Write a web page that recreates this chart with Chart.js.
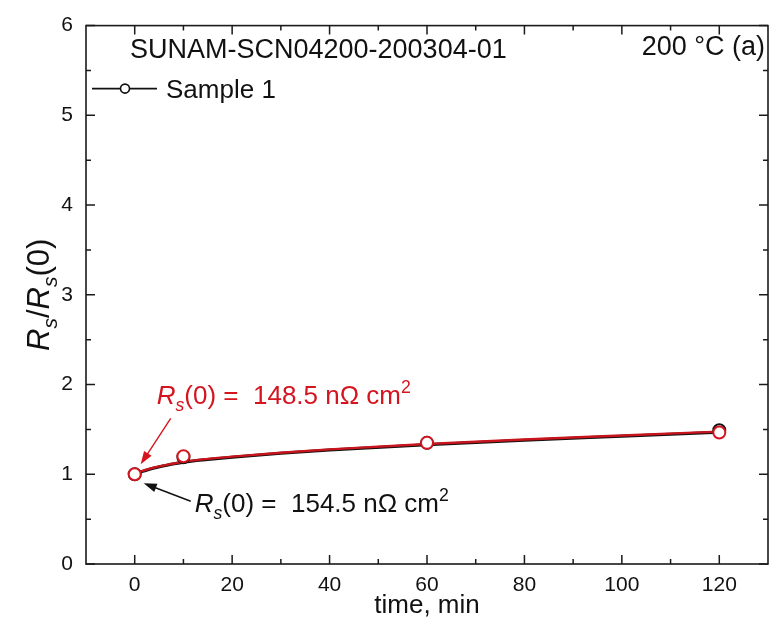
<!DOCTYPE html>
<html>
<head>
<meta charset="utf-8">
<script src="https://cdn.jsdelivr.net/npm/chart.js@4/dist/chart.umd.min.js"></script>
<style>
  html, body { margin: 0; padding: 0; background: #fff; }
  #wrap { width: 776px; height: 627px; }
</style>
</head>
<body>
<div id="wrap"><canvas id="c" width="776" height="627"></canvas></div>
<script>
// Annealing time (min) and normalised surface resistance Rs/Rs(0)
const timeMin = [0, 10, 60, 120];
const sample1Ratio = [1.00, 1.19, 1.35, 1.49];
const sample2Ratio = [1.00, 1.20, 1.35, 1.465];

// Smooth fit curves through each set
const fitTime = [0, 1, 2, 4, 7, 10, 15, 20, 30, 40, 60, 80, 100, 120];
const sample1Fit = [0.995, 1.02, 1.038, 1.07, 1.105, 1.135, 1.165, 1.19, 1.235, 1.27, 1.33, 1.38, 1.424, 1.468];
const sample2Fit = [1.00, 1.028, 1.045, 1.075, 1.11, 1.14, 1.172, 1.197, 1.24, 1.277, 1.338, 1.388, 1.432, 1.475];

// Axis ticks
const xTickValues = [0, 20, 40, 60, 80, 100, 120];
const xMinorValues = [10, 30, 50, 70, 90, 110];
const yTickValues = [0, 1, 2, 3, 4, 5, 6];
const yMinorValues = [0.5, 1.5, 2.5, 3.5, 4.5, 5.5];

// Rs(0) of each measurement, nΩ cm²
const rs0Sample1 = 154.5;
const rs0Sample2 = 148.5;

const sampleTitle = 'SUNAM-SCN04200-200304-01';
const tempLabel = '200 °C (a)';
const legendLabel = 'Sample 1';

const RED = '#d4151f';
const BLACK = '#111111';
const FONT = '"Liberation Sans", Arial, sans-serif';

function drawRich(ctx, parts, x, y, size, color) {
  let cx = x;
  ctx.fillStyle = color;
  ctx.textBaseline = 'alphabetic';
  ctx.textAlign = 'left';
  for (const p of parts) {
    const fs = (p.sub || p.sup) ? size * 0.68 : size;
    ctx.font = `${p.italic ? 'italic ' : ''}${fs}px ${FONT}`;
    const dy = p.sub ? size * 0.26 : (p.sup ? -size * 0.42 : 0);
    ctx.fillText(p.t, cx, y + dy);
    cx += ctx.measureText(p.t).width;
  }
  return cx - x;
}
function richWidth(ctx, parts, size) {
  let w = 0;
  for (const p of parts) {
    const fs = (p.sub || p.sup) ? size * 0.68 : size;
    ctx.font = `${p.italic ? 'italic ' : ''}${fs}px ${FONT}`;
    w += ctx.measureText(p.t).width;
  }
  return w;
}
function arrow(ctx, x0, y0, x1, y1, color) {
  const ang = Math.atan2(y1 - y0, x1 - x0);
  const hl = 13, hw = 4.5;
  ctx.save();
  ctx.strokeStyle = color;
  ctx.fillStyle = color;
  ctx.lineWidth = 1.4;
  ctx.beginPath();
  ctx.moveTo(x0, y0);
  ctx.lineTo(x1 - Math.cos(ang) * hl * 0.8, y1 - Math.sin(ang) * hl * 0.8);
  ctx.stroke();
  ctx.beginPath();
  ctx.moveTo(x1, y1);
  ctx.lineTo(x1 - Math.cos(ang) * hl - Math.sin(ang) * hw, y1 - Math.sin(ang) * hl + Math.cos(ang) * hw);
  ctx.lineTo(x1 - Math.cos(ang) * hl + Math.sin(ang) * hw, y1 - Math.sin(ang) * hl - Math.cos(ang) * hw);
  ctx.closePath();
  ctx.fill();
  ctx.restore();
}

// Frame, inward ticks on all four sides, labels and annotations
const decorations = {
  id: 'decorations',
  afterDraw(chart) {
    const { ctx, chartArea: a, scales: { x, y } } = chart;
    ctx.save();
    ctx.strokeStyle = '#1a1a1a';
    ctx.lineWidth = 1.6;
    ctx.strokeRect(a.left, a.top, a.right - a.left, a.bottom - a.top);

    const tick = (px, len, vertical) => {
      ctx.beginPath();
      if (vertical) {
        ctx.moveTo(px, a.bottom); ctx.lineTo(px, a.bottom - len);
        ctx.moveTo(px, a.top); ctx.lineTo(px, a.top + len);
      } else {
        ctx.moveTo(a.left, px); ctx.lineTo(a.left + len, px);
        ctx.moveTo(a.right, px); ctx.lineTo(a.right - len, px);
      }
      ctx.stroke();
    };
    ctx.lineWidth = 1.5;
    xTickValues.forEach(v => tick(x.getPixelForValue(v), 9, true));
    xMinorValues.forEach(v => tick(x.getPixelForValue(v), 5, true));
    yTickValues.forEach(v => tick(y.getPixelForValue(v), 9, false));
    yMinorValues.forEach(v => tick(y.getPixelForValue(v), 5, false));

    // titles inside the frame
    ctx.fillStyle = BLACK;
    ctx.font = `27px ${FONT}`;
    ctx.textBaseline = 'alphabetic';
    ctx.textAlign = 'left';
    ctx.fillText(sampleTitle, a.left + 44, a.top + 32);
    ctx.textAlign = 'right';
    ctx.fillText(tempLabel, a.right - 3, a.top + 29);

    // legend: line with open circle
    const ly = a.top + 63;
    ctx.strokeStyle = BLACK;
    ctx.lineWidth = 1.6;
    ctx.beginPath();
    ctx.moveTo(a.left + 6, ly); ctx.lineTo(a.left + 34, ly);
    ctx.moveTo(a.left + 44, ly); ctx.lineTo(a.left + 71, ly);
    ctx.stroke();
    ctx.beginPath();
    ctx.arc(a.left + 39, ly, 4.5, 0, Math.PI * 2);
    ctx.stroke();
    ctx.textAlign = 'left';
    ctx.font = `26px ${FONT}`;
    ctx.fillText(legendLabel, a.left + 80, ly + 9);

    // y-axis title, rotated
    const yParts = [
      { t: 'R', italic: true }, { t: 's', italic: true, sub: true },
      { t: '/' },
      { t: 'R', italic: true }, { t: 's', italic: true, sub: true },
      { t: '(0)' }
    ];
    const ySize = 31;
    const yw = richWidth(ctx, yParts, ySize);
    ctx.save();
    ctx.translate(49, (a.top + a.bottom) / 2);
    ctx.rotate(-Math.PI / 2);
    drawRich(ctx, yParts, -yw / 2, 0, ySize, BLACK);
    ctx.restore();

    // Rs(0) annotations pointing at the first point
    const px0 = x.getPixelForValue(timeMin[0]);
    const py0 = y.getPixelForValue(sample2Ratio[0]);
    const redParts = [
      { t: 'R', italic: true }, { t: 's', italic: true, sub: true },
      { t: '(0) =  ' + rs0Sample2.toFixed(1) + ' nΩ cm' }, { t: '2', sup: true }
    ];
    drawRich(ctx, redParts, px0 + 22, py0 - 70, 26, RED);
    arrow(ctx, px0 + 36, py0 - 56, px0 + 6, py0 - 10, RED);

    const blackParts = [
      { t: 'R', italic: true }, { t: 's', italic: true, sub: true },
      { t: '(0) =  ' + rs0Sample1.toFixed(1) + ' nΩ cm' }, { t: '2', sup: true }
    ];
    drawRich(ctx, blackParts, px0 + 60, py0 + 38, 26, BLACK);
    arrow(ctx, px0 + 56, py0 + 27, px0 + 9, py0 + 9, BLACK);
    ctx.restore();
  }
};

const toXY = (xs, ys) => xs.map((t, i) => ({ x: t, y: ys[i] }));

// lower "order" values are drawn on top
new Chart(document.getElementById('c'), {
  type: 'scatter',
  data: {
    datasets: [
      {
        data: toXY(fitTime, sample1Fit), order: 4,
        showLine: true, borderColor: BLACK, borderWidth: 3,
        pointRadius: 0, cubicInterpolationMode: 'monotone'
      },
      {
        data: toXY(fitTime, sample2Fit), order: 3,
        showLine: true, borderColor: '#c8141c', borderWidth: 2.4,
        pointRadius: 0, cubicInterpolationMode: 'monotone'
      },
      {
        label: legendLabel, order: 2,
        data: toXY(timeMin, sample1Ratio),
        showLine: false, pointRadius: 6, pointBorderWidth: 2,
        pointBorderColor: BLACK, pointBackgroundColor: '#fff'
      },
      {
        data: toXY(timeMin, sample2Ratio), order: 1,
        showLine: false, pointRadius: 6, pointBorderWidth: 2,
        pointBorderColor: RED, pointBackgroundColor: '#fff'
      }
    ]
  },
  options: {
    responsive: false,
    animation: false,
    devicePixelRatio: 1,
    layout: { padding: { top: 16, right: 8, left: 0, bottom: 0 } },
    plugins: { legend: { display: false }, tooltip: { enabled: false } },
    scales: {
      x: {
        type: 'linear', min: -10, max: 130,
        afterBuildTicks: s => { s.ticks = xTickValues.map(v => ({ value: v })); },
        afterFit: s => { s.height = 63; },
        grid: { display: false, drawTicks: false },
        border: { display: false },
        ticks: { color: BLACK, font: { family: FONT, size: 21 }, padding: 9, maxRotation: 0 },
        title: { display: true, text: 'time, min', color: BLACK,
                 font: { family: FONT, size: 26 }, padding: { top: 0, bottom: 6 } }
      },
      y: {
        type: 'linear', min: 0, max: 6,
        afterBuildTicks: s => { s.ticks = yTickValues.map(v => ({ value: v })); },
        afterFit: s => { s.width = 86; },
        grid: { display: false, drawTicks: false },
        border: { display: false },
        ticks: { color: BLACK, font: { family: FONT, size: 21 }, padding: 13 }
      }
    }
  },
  plugins: [decorations]
});
</script>
</body>
</html>
